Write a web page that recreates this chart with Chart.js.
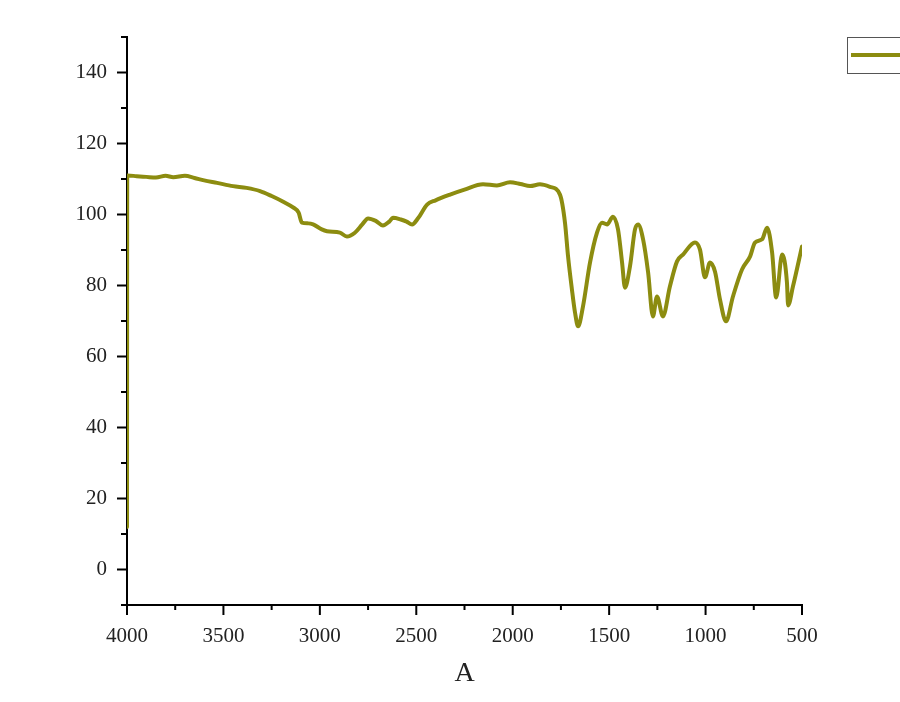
<!DOCTYPE html>
<html>
<head>
<meta charset="utf-8">
<script src="https://cdn.jsdelivr.net/npm/chart.js@4.4.0/dist/chart.umd.min.js"></script>
<style>
  html, body { margin: 0; padding: 0; background: #fff; }
  #wrap { width: 900px; height: 702px; }
</style>
</head>
<body>
<div id="wrap"><canvas id="ir" width="900" height="702"></canvas></div>
<script>
// spectrum (wavenumber, value)
const wavenumbers = [4000, 3999, 3950, 3900, 3850, 3800, 3760, 3700, 3650, 3600, 3533, 3450, 3380, 3310, 3250, 3190, 3139, 3110, 3093, 3060, 3035, 2990, 2963, 2896, 2860, 2820, 2780, 2750, 2710, 2673, 2640, 2621, 2580, 2550, 2522, 2490, 2444, 2400, 2325, 2250, 2154, 2082, 2014, 1960, 1910, 1859, 1807, 1755, 1729, 1713, 1693, 1677, 1661, 1636, 1599, 1563, 1537, 1511, 1480, 1454, 1433, 1418, 1392, 1366, 1350, 1324, 1298, 1273, 1252, 1221, 1185, 1148, 1117, 1055, 1029, 1003, 977, 951, 925, 894, 858, 811, 769, 744, 707, 681, 655, 634, 603, 578, 572, 547, 500];
const values = [12, 111, 110.8, 110.6, 110.4, 110.9, 110.5, 110.9, 110.3, 109.6, 108.9, 108, 107.5, 106.6, 105.2, 103.6, 102, 100.5, 97.7, 97.5, 97.2, 95.8, 95.3, 94.9, 93.8, 94.8, 97.2, 98.9, 98.2, 96.9, 98.0, 99.1, 98.6, 98, 97.2, 99, 102.8, 104, 105.6, 107, 108.5, 108.2, 109.1, 108.6, 108, 108.5, 107.8, 105.6, 97.7, 88.2, 78.9, 72.4, 68.5, 74, 86.5, 94.9, 97.7, 97.2, 99.4, 95.8, 86.5, 79.4, 85.4, 95.8, 97.2, 93, 83.7, 71.3, 76.9, 71.3, 79.7, 86.8, 88.7, 92.1, 90.1, 82.3, 86.5, 83.9, 76, 69.9, 76.9, 84.5, 88.2, 92.1, 93, 96.3, 89.3, 76.6, 88.7, 80.8, 74.4, 79.7, 91];
const xTickLabels = ['4000', '3500', '3000', '2500', '2000', '1500', '1000', '500'];
const yTickLabels = ['0', '20', '40', '60', '80', '100', '120', '140'];

const lineColor = '#8c8c10';
const font = { family: '"Liberation Serif", "DejaVu Serif", serif', size: 21 };

const points = wavenumbers.map((w, i) => ({ x: w, y: values[i] }));

// outward major/minor tick marks
const tickMarks = {
  id: 'tickMarks',
  afterDraw(chart) {
    const ctx = chart.ctx;
    const xs = chart.scales.x, ys = chart.scales.y;
    ctx.save();
    ctx.strokeStyle = '#000';
    ctx.lineWidth = 2;
    for (let v = 500; v <= 4000; v += 250) {
      const px = xs.getPixelForValue(v);
      const len = v % 500 === 0 ? 10 : 5;
      ctx.beginPath();
      ctx.moveTo(px, ys.bottom);
      ctx.lineTo(px, ys.bottom + len);
      ctx.stroke();
    }
    for (let v = -10; v <= 150; v += 10) {
      const py = ys.getPixelForValue(v);
      const len = v % 20 === 0 ? 10 : 6;
      ctx.beginPath();
      ctx.moveTo(xs.left, py);
      ctx.lineTo(xs.left - len, py);
      ctx.stroke();
    }
    ctx.restore();
  }
};

// legend box at top right (cut off like the original)
const legendBox = {
  id: 'legendBox',
  afterDraw(chart) {
    const ctx = chart.ctx;
    ctx.save();
    ctx.strokeStyle = '#555';
    ctx.lineWidth = 1;
    ctx.strokeRect(847.5, 37.5, 80, 36);
    ctx.strokeStyle = lineColor;
    ctx.lineWidth = 4;
    ctx.beginPath();
    ctx.moveTo(851, 55);
    ctx.lineTo(900, 55);
    ctx.stroke();
    ctx.restore();
  }
};

new Chart(document.getElementById('ir'), {
  type: 'line',
  data: {
    datasets: [{
      label: '',
      data: points,
      borderColor: lineColor,
      borderWidth: 4,
      borderJoinStyle: 'round',
      borderCapStyle: 'round',
      pointRadius: 0,
      cubicInterpolationMode: 'monotone',
      fill: false,
    }],
  },
  options: {
    responsive: false,
    animation: false,
    layout: { padding: { left: 0, right: 98, top: 37, bottom: 0 } },
    plugins: {
      legend: { display: false },
      tooltip: { enabled: false },
    },
    scales: {
      x: {
        type: 'linear',
        reverse: true,
        min: 500,
        max: 4000,
        afterFit(scale) { scale.height = 97; },
        afterBuildTicks(scale) {
          scale.ticks = xTickLabels.map(t => ({ value: Number(t) }));
        },
        ticks: {
          font: font, color: '#222', padding: 19, maxRotation: 0, autoSkip: false,
          callback: (v) => String(v),
        },
        grid: { display: true, drawOnChartArea: false, drawTicks: false },
        border: { color: '#000', width: 2 },
        title: { display: true, text: 'A', font: { family: font.family, size: 28 }, color: '#222', padding: { top: 6, bottom: 12 } },
      },
      y: {
        min: -10,
        max: 150,
        afterFit(scale) { scale.width = 127; },
        afterBuildTicks(scale) {
          scale.ticks = yTickLabels.map(t => ({ value: Number(t) }));
        },
        ticks: { font: font, color: '#222', padding: 20 },
        grid: { display: true, drawOnChartArea: false, drawTicks: false },
        border: { color: '#000', width: 2 },
      },
    },
  },
  plugins: [tickMarks, legendBox],
});
</script>
</body>
</html>
